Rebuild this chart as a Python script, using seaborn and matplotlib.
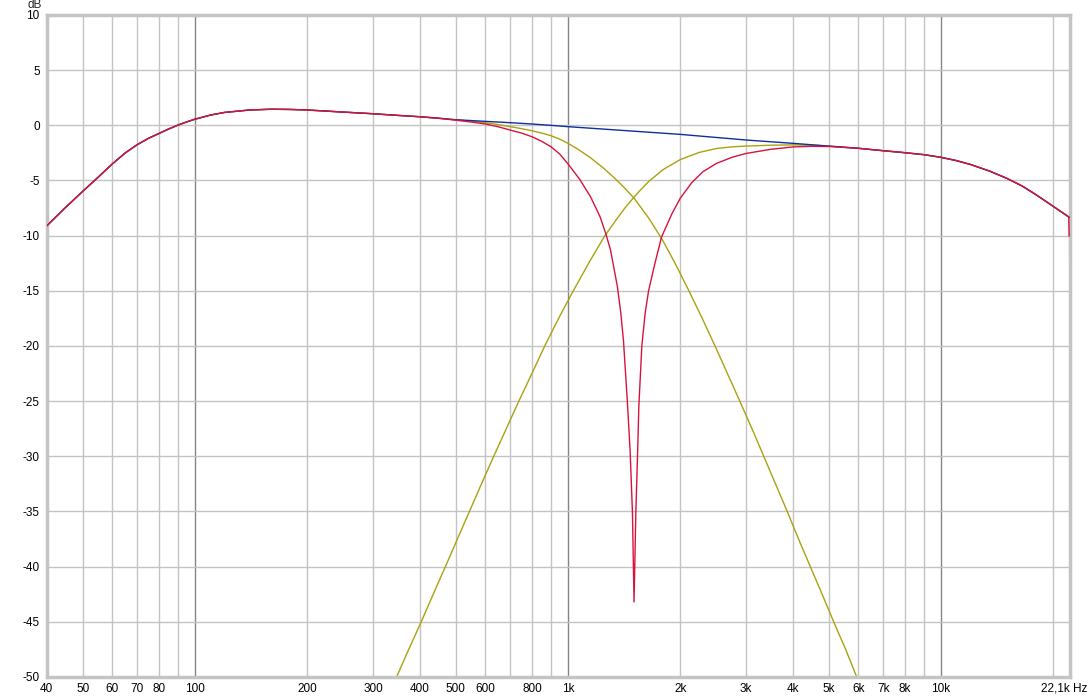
import matplotlib
matplotlib.use("Agg")
import matplotlib.pyplot as plt
from matplotlib.ticker import NullLocator
from matplotlib.transforms import ScaledTranslation
import pandas as pd
import seaborn as sns

# ---- data (frequency in Hz, level in dB) ----
sum_freq = [40, 45, 50, 55, 60, 65, 70, 75, 80, 85, 90, 95, 100, 110, 120, 140,
            160, 180, 200, 250, 300, 350, 400, 500, 600, 700, 800, 900, 1000,
            1500, 2000, 3000, 4000, 5000, 6000, 7000, 8000, 9000, 10000, 11000,
            12000, 13500, 15000, 16500, 18000, 20000, 22100]
sum_db = [-9.13, -7.43, -5.98, -4.7, -3.5, -2.5, -1.75, -1.18, -0.74, -0.33, 0.02,
          0.31, 0.56, 0.93, 1.17, 1.39, 1.46, 1.44, 1.39, 1.2, 1.05, 0.9, 0.78,
          0.51, 0.36, 0.24, 0.12, 0.0, -0.12, -0.53, -0.82, -1.33, -1.63, -1.88,
          -2.08, -2.3, -2.48, -2.66, -2.9, -3.2, -3.55, -4.15, -4.8, -5.5, -6.3,
          -7.35, -8.35]

low_freq = [40, 45, 50, 55, 60, 65, 70, 75, 80, 85, 90, 95, 100, 110, 120, 140,
            160, 180, 200, 250, 300, 350, 400, 450, 500, 550, 600, 650, 700, 750,
            800, 850, 900, 950, 1000, 1066, 1150, 1250, 1351, 1420, 1503, 1650,
            1792, 1950, 2102, 2290, 2478, 2700, 2905, 3150, 3357, 3600, 3870,
            4150, 4462, 4800, 5155, 5550, 5943]
low_db = [-9.13, -7.43, -5.98, -4.7, -3.5, -2.5, -1.75, -1.18, -0.74, -0.33, 0.02,
          0.31, 0.56, 0.93, 1.17, 1.39, 1.46, 1.44, 1.39, 1.2, 1.05, 0.9, 0.78,
          0.65, 0.49, 0.38, 0.24, 0.07, -0.12, -0.3, -0.49, -0.7, -0.94, -1.25,
          -1.63, -2.19, -2.95, -3.93, -4.97, -5.7, -6.6, -8.46, -10.4, -12.7,
          -14.9, -17.5, -20.0, -22.8, -25.2, -27.9, -30.1, -32.5, -35.0, -37.5,
          -40.0, -42.5, -45.0, -47.5, -50.0]

high_freq = [347, 374, 404, 435, 469, 505, 544, 586, 632, 683, 738, 800, 866, 950,
             1033, 1140, 1250, 1350, 1420, 1503, 1570, 1644, 1800, 2000, 2250,
             2500, 2750, 3000, 3500, 4000, 4500, 5000, 6000, 7000, 8000, 9000,
             10000, 11000, 12000, 13500, 15000, 16500, 18000, 20000, 22100]
high_db = [-50.0, -47.5, -45.0, -42.5, -40.0, -37.5, -35.0, -32.5, -30.0, -27.5,
           -25.0, -22.5, -20.0, -17.3, -15.0, -12.4, -10.1, -8.5, -7.5, -6.5, -5.8,
           -5.1, -4.0, -3.1, -2.45, -2.1, -1.95, -1.88, -1.8, -1.77, -1.8, -1.88,
           -2.08, -2.3, -2.48, -2.66, -2.9, -3.2, -3.55, -4.15, -4.8, -5.5, -6.3,
           -7.35, -8.35]

combo_freq = [40, 45, 50, 55, 60, 65, 70, 75, 80, 85, 90, 95, 100, 110, 120, 140,
              160, 180, 200, 250, 300, 350, 400, 450, 500, 550, 600, 650, 700, 750,
              800, 850, 900, 950, 1000, 1075, 1150, 1219, 1262, 1300, 1356, 1385,
              1408, 1442, 1467, 1488, 1503, 1520, 1537, 1548, 1577, 1610, 1644,
              1710, 1782, 1900, 2000, 2146, 2300, 2500, 2750, 3000, 3500, 4000,
              4500, 5000, 6000, 7000, 8000, 9000, 10000, 11000, 12000, 13500,
              15000, 16500, 18000, 20000, 22000, 22050, 22050]
combo_db = [-9.13, -7.43, -5.98, -4.7, -3.5, -2.5, -1.75, -1.18, -0.74, -0.33, 0.02,
            0.31, 0.56, 0.93, 1.17, 1.39, 1.46, 1.44, 1.39, 1.2, 1.05, 0.9, 0.78,
            0.64, 0.47, 0.3, 0.12, -0.13, -0.43, -0.7, -1.03, -1.45, -1.94, -2.6,
            -3.5, -4.9, -6.5, -8.3, -9.8, -11.3, -14.6, -17.0, -19.5, -25.0, -29.5,
            -35.0, -43.2, -35.0, -29.5, -25.5, -20.0, -17.0, -15.0, -12.5, -10.1,
            -8.0, -6.6, -5.2, -4.2, -3.45, -2.9, -2.55, -2.17, -1.96, -1.9, -1.92,
            -2.08, -2.3, -2.48, -2.66, -2.9, -3.2, -3.55, -4.15, -4.8, -5.5, -6.3,
            -7.35, -8.3, -7.8, -12.3]

x_ticks = [40, 50, 60, 70, 80, 100, 200, 300, 400, 500, 600, 800, 1000, 2000,
           3000, 4000, 5000, 6000, 7000, 8000, 10000, 22100]
x_tick_labels = ["40", "50", "60", "70", "80", "100", "200", "300", "400", "500",
                 "600", "800", "1k", "2k", "3k", "4k", "5k", "6k", "7k", "8k",
                 "10k", "22,1k Hz"]
y_ticks = [10, 5, 0, -5, -10, -15, -20, -25, -30, -35, -40, -45, -50]
grid_freqs = [50, 60, 70, 80, 90, 200, 300, 400, 500, 600, 700, 800, 900,
              2000, 3000, 4000, 5000, 6000, 7000, 8000, 9000, 20000]
decade_freqs = [100, 1000, 10000]

# ---- styling ----
sns.set_style("white")
plt.rcParams['font.family'] = ['Liberation Sans', 'DejaVu Sans']
plt.rcParams['font.size'] = 8

W, H = 1092, 698
fig = plt.figure(figsize=(W / 100, H / 100), dpi=100)
x0, x1, yt, yb = 46.6, 1069.5, 15, 677
ax = fig.add_axes([x0 / W, 1 - yb / H, (x1 - x0) / W, (yb - yt) / H])

ax.set_xscale('log')
ax.set_xlim(40, 22100)
ax.set_ylim(-50, 10)

for f in grid_freqs:
    ax.axvline(f, color='#c3c3c3', lw=1.0, zorder=0)
for f in decade_freqs:
    ax.axvline(f, color='#858585', lw=1.0, zorder=0)
for d in y_ticks[1:-1]:
    ax.axhline(d, color='#c3c3c3', lw=1.0, zorder=0)

olive = '#aaa20e'
blue = '#0c2f9c'
red = '#d8123e'

df_low = pd.DataFrame({'f': low_freq, 'db': low_db})
df_high = pd.DataFrame({'f': high_freq, 'db': high_db})
df_sum = pd.DataFrame({'f': sum_freq, 'db': sum_db})
df_combo = pd.DataFrame({'f': combo_freq, 'db': combo_db})

sns.lineplot(data=df_low, x='f', y='db', ax=ax, color=olive, lw=1.0, sort=False, zorder=2)
sns.lineplot(data=df_high, x='f', y='db', ax=ax, color=olive, lw=1.0, sort=False, zorder=2)
sns.lineplot(data=df_sum, x='f', y='db', ax=ax, color=blue, lw=1.0, sort=False, zorder=3)
sns.lineplot(data=df_combo, x='f', y='db', ax=ax, color=red, lw=1.0, sort=False, zorder=4)

ax.set_xticks(x_ticks)
ax.set_xticklabels(x_tick_labels)
ax.xaxis.set_minor_locator(NullLocator())
ax.set_yticks(y_ticks)
ax.set_yticklabels([str(v) for v in y_ticks])
ax.tick_params(axis='both', length=0, labelsize=8.5, colors='black')
ax.tick_params(axis='x', pad=4)
ax.tick_params(axis='y', pad=5)
ax.set_xlabel('')
ax.set_ylabel('')

last = ax.get_xticklabels()[-1]
last.set_transform(last.get_transform() + ScaledTranslation(-5 / 100, 0, fig.dpi_scale_trans))

for s in ax.spines.values():
    s.set_visible(True)
    s.set_color('#c4c4c4')
    s.set_linewidth(2.5)

fig.text(34.5 / W, 1 - 5.5 / H, 'dB', ha='center', va='center', fontsize=8.5)

fig.savefig('out.png', dpi=100)
